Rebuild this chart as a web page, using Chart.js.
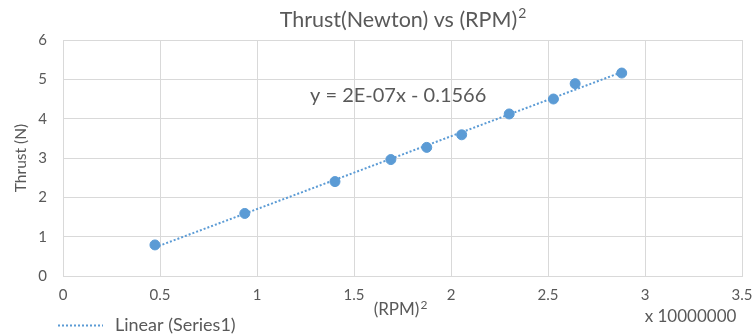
<!DOCTYPE html>
<html><head><meta charset="utf-8">
<script src="https://cdn.jsdelivr.net/npm/chart.js@4/dist/chart.umd.min.js"></script>
<style>html,body{margin:0;padding:0;background:#fff}#wrap{width:753px;height:336px}</style>
</head><body><div id="wrap"><canvas id="c" width="753" height="336"></canvas></div>
<script>
// (RPM)^2 in units of 10,000,000
const rpmSquared = [0.474, 0.937, 1.402, 1.690, 1.875, 2.055, 2.300, 2.528, 2.640, 2.880];
const thrustN    = [0.79, 1.59, 2.40, 2.96, 3.27, 3.59, 4.12, 4.50, 4.89, 5.16];
const xTicks = [0, 0.5, 1, 1.5, 2, 2.5, 3, 3.5];
const yTicks = [0, 1, 2, 3, 4, 5, 6];
const equationLabel = 'y = 2E-07x - 0.1566';

// least-squares trendline from the data
const n = rpmSquared.length;
const mx = rpmSquared.reduce((a,b)=>a+b,0)/n, my = thrustN.reduce((a,b)=>a+b,0)/n;
let sxy=0, sxx=0;
for (let i=0;i<n;i++){ sxy+=(rpmSquared[i]-mx)*(thrustN[i]-my); sxx+=(rpmSquared[i]-mx)**2; }
const slope = sxy/sxx, icpt = my - slope*mx;
const xMin = Math.min(...rpmSquared), xMax = Math.max(...rpmSquared);
const trend = [{x:xMin,y:slope*xMin+icpt},{x:xMax,y:slope*xMax+icpt}];

const FONT = 'Lato, "Open Sans", sans-serif';
const GRAY = '#595959';
const BLUE = '#5b9bd5';

function supText(ctx, base, sup, size, supSize, cx, cy){
  ctx.font = size+'px '+FONT;
  const w1 = ctx.measureText(base).width;
  ctx.font = supSize+'px '+FONT;
  const w2 = ctx.measureText(sup).width;
  const x = cx - (w1+w2)/2;
  ctx.textAlign = 'left';
  ctx.font = size+'px '+FONT;
  ctx.fillText(base, x, cy);
  ctx.font = supSize+'px '+FONT;
  ctx.fillText(sup, x+w1+1, cy - size*0.3);
}

const textPlugin = {
  id:'texts',
  afterDraw(chart){
    const {ctx, chartArea:a} = chart;
    ctx.save();
    ctx.fillStyle = GRAY;
    ctx.textBaseline = 'middle';
    const cx = (a.left+a.right)/2;
    supText(ctx, 'Thrust(Newton) vs (RPM)', '2', 21.5, 14, cx, 20);
    supText(ctx, '(RPM)', '2', 17, 12, 400, 310);
    ctx.textAlign = 'center';
    ctx.font = '17px '+FONT;
    ctx.fillText('x 10000000', 690.5, 317);
    ctx.save();
    ctx.translate(21, 158);
    ctx.rotate(-Math.PI/2);
    ctx.font = '15.5px '+FONT;
    ctx.fillText('Thrust (N)', 0, 0);
    ctx.restore();
    ctx.font = '20px '+FONT;
    ctx.textAlign = 'left';
    ctx.fillText(equationLabel, 310, 96);
    ctx.strokeStyle = BLUE;
    ctx.lineWidth = 2;
    ctx.setLineDash([2,2]);
    ctx.beginPath(); ctx.moveTo(58, 325.5); ctx.lineTo(103, 325.5); ctx.stroke();
    ctx.setLineDash([]);
    ctx.font = '18px '+FONT;
    ctx.fillText('Linear (Series1)', 115, 325);
    ctx.restore();
  }
};

new Chart(document.getElementById('c'), {
  type:'scatter',
  data:{datasets:[
    {label:'Series1', data: rpmSquared.map((x,i)=>({x, y:thrustN[i]})),
     backgroundColor:BLUE, borderColor:BLUE, pointRadius:5, pointHoverRadius:5, order:1},
    {label:'Linear (Series1)', data:trend, type:'line', showLine:true, borderColor:BLUE,
     borderWidth:2, borderDash:[2,2], pointRadius:0, fill:false, order:2}
  ]},
  options:{
    responsive:false, animation:false, devicePixelRatio:1,
    layout:{padding:{top:40, right:11, left:0, bottom:0}},
    plugins:{legend:{display:false}, tooltip:{enabled:false}, title:{display:false}},
    scales:{
      x:{type:'linear', min:0, max:3.5,
        afterBuildTicks(s){ s.ticks = xTicks.map(v=>({value:v})); },
        afterFit(s){ s.height = 60; s.paddingLeft = 0; s.paddingRight = 0; },
        grid:{color:'#d9d9d9', drawTicks:false, lineWidth:1},
        border:{color:'#d9d9d9'},
        ticks:{color:GRAY, font:{family:FONT, size:15}, padding:10, maxRotation:0,
          callback:v=>String(v)}},
      y:{type:'linear', min:0, max:6,
        afterBuildTicks(s){ s.ticks = yTicks.map(v=>({value:v})); },
        afterFit(s){ s.width = 63; s.paddingTop = 0; s.paddingBottom = 0; },
        grid:{color:'#d9d9d9', drawTicks:false, lineWidth:1},
        border:{color:'#d9d9d9'},
        ticks:{color:GRAY, font:{family:FONT, size:15}, padding:16, callback:v=>String(v)}}
    }
  },
  plugins:[textPlugin]
});
</script></body></html>
